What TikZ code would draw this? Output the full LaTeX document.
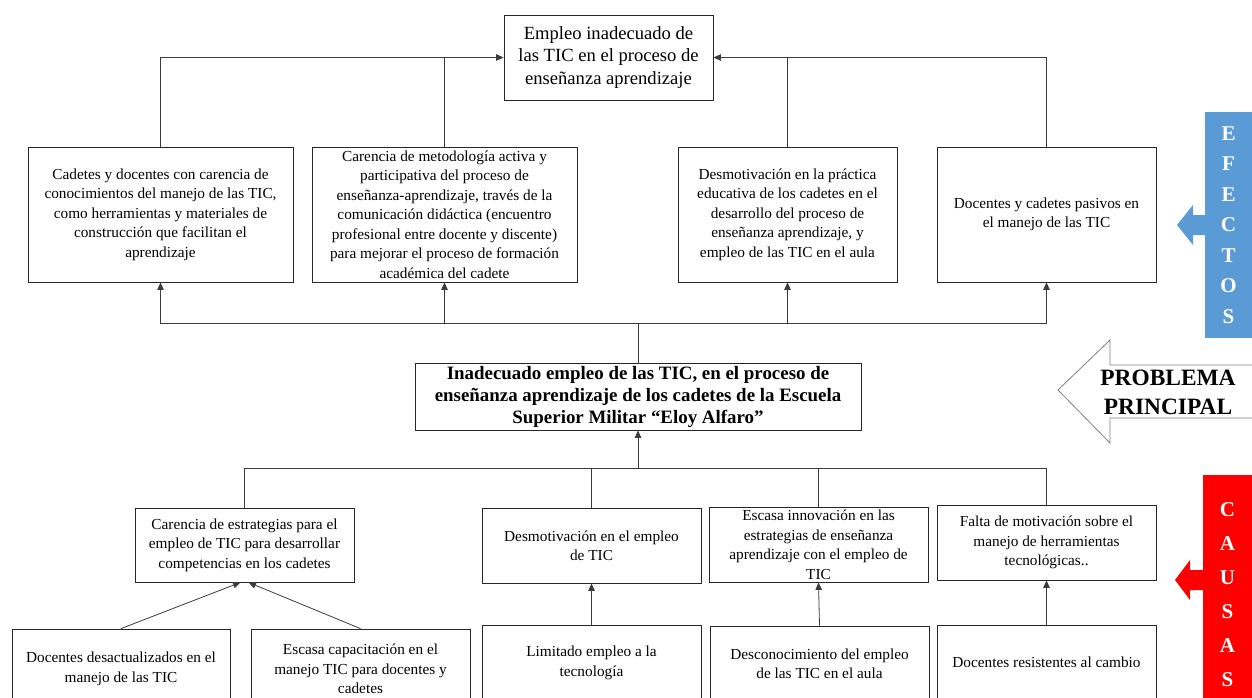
\documentclass[tikz,border=0pt]{standalone}
\usepackage{fontspec}
\setmainfont{Liberation Serif}
\usetikzlibrary{arrows.meta}
\definecolor{efblue}{RGB}{91,155,213}
\definecolor{caured}{RGB}{255,0,0}
\definecolor{linegray}{RGB}{60,60,60}
\tikzset{
  box/.style={draw=black!85, line width=0.8pt, align=center, inner sep=2pt,
    font=\fontsize{15.3}{19.5}\selectfont},
  link/.style={draw=linegray, line width=0.8pt},
}
\begin{document}
\begin{tikzpicture}[x=1pt,y=-1pt,>={Triangle[length=7.5pt,width=6.5pt]}]
  \useasboundingbox (0,0) rectangle (1252,698);
  \clip (0,0) rectangle (1252,698);
  \node[box, minimum width=209, minimum height=85, font=\fontsize{18.6}{22.5}\selectfont] (efecto) at (608.5,57.5) {Empleo inadecuado de\\las TIC en el proceso de\\enseñanza aprendizaje};
  \node[box, minimum width=265, minimum height=135] (e1) at (160.5,214.5) {Cadetes y docentes con carencia de\\conocimientos del manejo de las TIC,\\como herramientas y materiales de\\construcción que facilitan el\\aprendizaje};
  \node[box, minimum width=265, minimum height=135] (e2) at (444.5,214.5) {Carencia de metodología activa y\\participativa del proceso de\\enseñanza-aprendizaje, través de la\\comunicación didáctica (encuentro\\profesional entre docente y discente)\\para mejorar el proceso de formación\\académica del cadete};
  \node[box, minimum width=219, minimum height=135] (e3) at (787.5,214.5) {Desmotivación en la práctica\\educativa de los cadetes en el\\desarrollo del proceso de\\enseñanza aprendizaje, y\\empleo de las TIC en el aula};
  \node[box, minimum width=219, minimum height=135] (e4) at (1046.5,214.5) {Docentes y cadetes pasivos en\\el manejo de las TIC};
  \node[box, minimum width=446, minimum height=67, font=\bfseries\fontsize{18.9}{22}\selectfont] (problema) at (638,396.5) {Inadecuado empleo de las TIC, en el proceso de\\enseñanza aprendizaje de los cadetes de la Escuela\\Superior Militar “Eloy Alfaro”};
  \node[box, minimum width=219, minimum height=74] (c1) at (244.5,545) {Carencia de estrategias para el\\empleo de TIC para desarrollar\\competencias en los cadetes};
  \node[box, minimum width=219, minimum height=75] (c2) at (591.5,545.5) {Desmotivación en el empleo\\de TIC};
  \node[box, minimum width=219, minimum height=75] (c3) at (818.5,544.5) {Escasa innovación en las\\estrategias de enseñanza\\aprendizaje con el empleo de\\TIC};
  \node[box, minimum width=219, minimum height=75] (c4) at (1046.5,542.5) {Falta de motivación sobre el\\manejo de herramientas\\tecnológicas..};
  \node[box, minimum width=218, minimum height=80] (d1) at (121,669) {Docentes desactualizados en el\\manejo de las TIC};
  \node[box, minimum width=219, minimum height=80] (d2) at (360.5,669) {Escasa capacitación en el\\manejo TIC para docentes y\\cadetes};
  \node[box, minimum width=219, minimum height=76] (d3) at (591.5,663) {Limitado empleo a la\\tecnología};
  \node[box, minimum width=219, minimum height=76] (d4) at (819.5,664) {Desconocimiento del empleo\\de las TIC en el aula};
  \node[box, minimum width=219, minimum height=74] (d5) at (1046.5,662) {Docentes resistentes al cambio};
  \coordinate (jt) at (638,323);
  \coordinate (jb) at (638,468);
  \draw[link,->] (e1.north) |- (efecto.west);
  \draw[link] (e2.north) -- (e2.north |- efecto.west);
  \draw[link,->] (e4.north) |- (efecto.east);
  \draw[link] (e3.north) -- (e3.north |- efecto.east);
  \draw[link] (problema.north) -- (jt);
  \draw[link,->] (jt) -| (e1.south);
  \draw[link,->] (jt) -| (e2.south);
  \draw[link,->] (jt) -| (e3.south);
  \draw[link,->] (jt) -| (e4.south);
  \draw[link,->] (jb) -- (problema.south);
  \draw[link] (jb) -| (c1.north);
  \draw[link] (jb) -| (c2.north);
  \draw[link] (jb) -| (c3.north);
  \draw[link] (jb) -| (c4.north);
  \draw[link,->] (d1.north) -- ([xshift=-4]c1.south);
  \draw[link,->] (d2.north) -- ([xshift=4]c1.south);
  \draw[link,->] (d3.north) -- (c2.south);
  \draw[link,->] (d4.north) -- (c3.south);
  \draw[link,->] (d5.north) -- (c4.south);
  \fill[efblue] (1205,112) rectangle (1252,338);
  \fill[efblue] (1177,225) -- (1193,205) -- (1193,215) -- (1206,215) -- (1206,235) -- (1193,235) -- (1193,245) -- cycle;
  \node[text=white, font=\bfseries\fontsize{21}{30.5}\selectfont, align=center] (efectos) at (1228.5,225) {E\\F\\E\\C\\T\\O\\S};
  \fill[caured] (1203,475) rectangle (1252,698);
  \fill[caured] (1175,580) -- (1190,560) -- (1190,570) -- (1204,570) -- (1204,590) -- (1190,590) -- (1190,600) -- cycle;
  \node[text=white, font=\bfseries\fontsize{21}{34}\selectfont, align=center] (causas) at (1227.5,595) {C\\A\\U\\S\\A\\S};
  \draw[gray, line width=0.8pt] (1253,365) -- (1110,365) -- (1110,340) -- (1058,390) -- (1110,443) -- (1110,418) -- (1253,418);
  \node[font=\bfseries\fontsize{23.4}{29}\selectfont, align=center] (principal) at (1168,392.5) {PROBLEMA\\PRINCIPAL};
\end{tikzpicture}
\end{document}
